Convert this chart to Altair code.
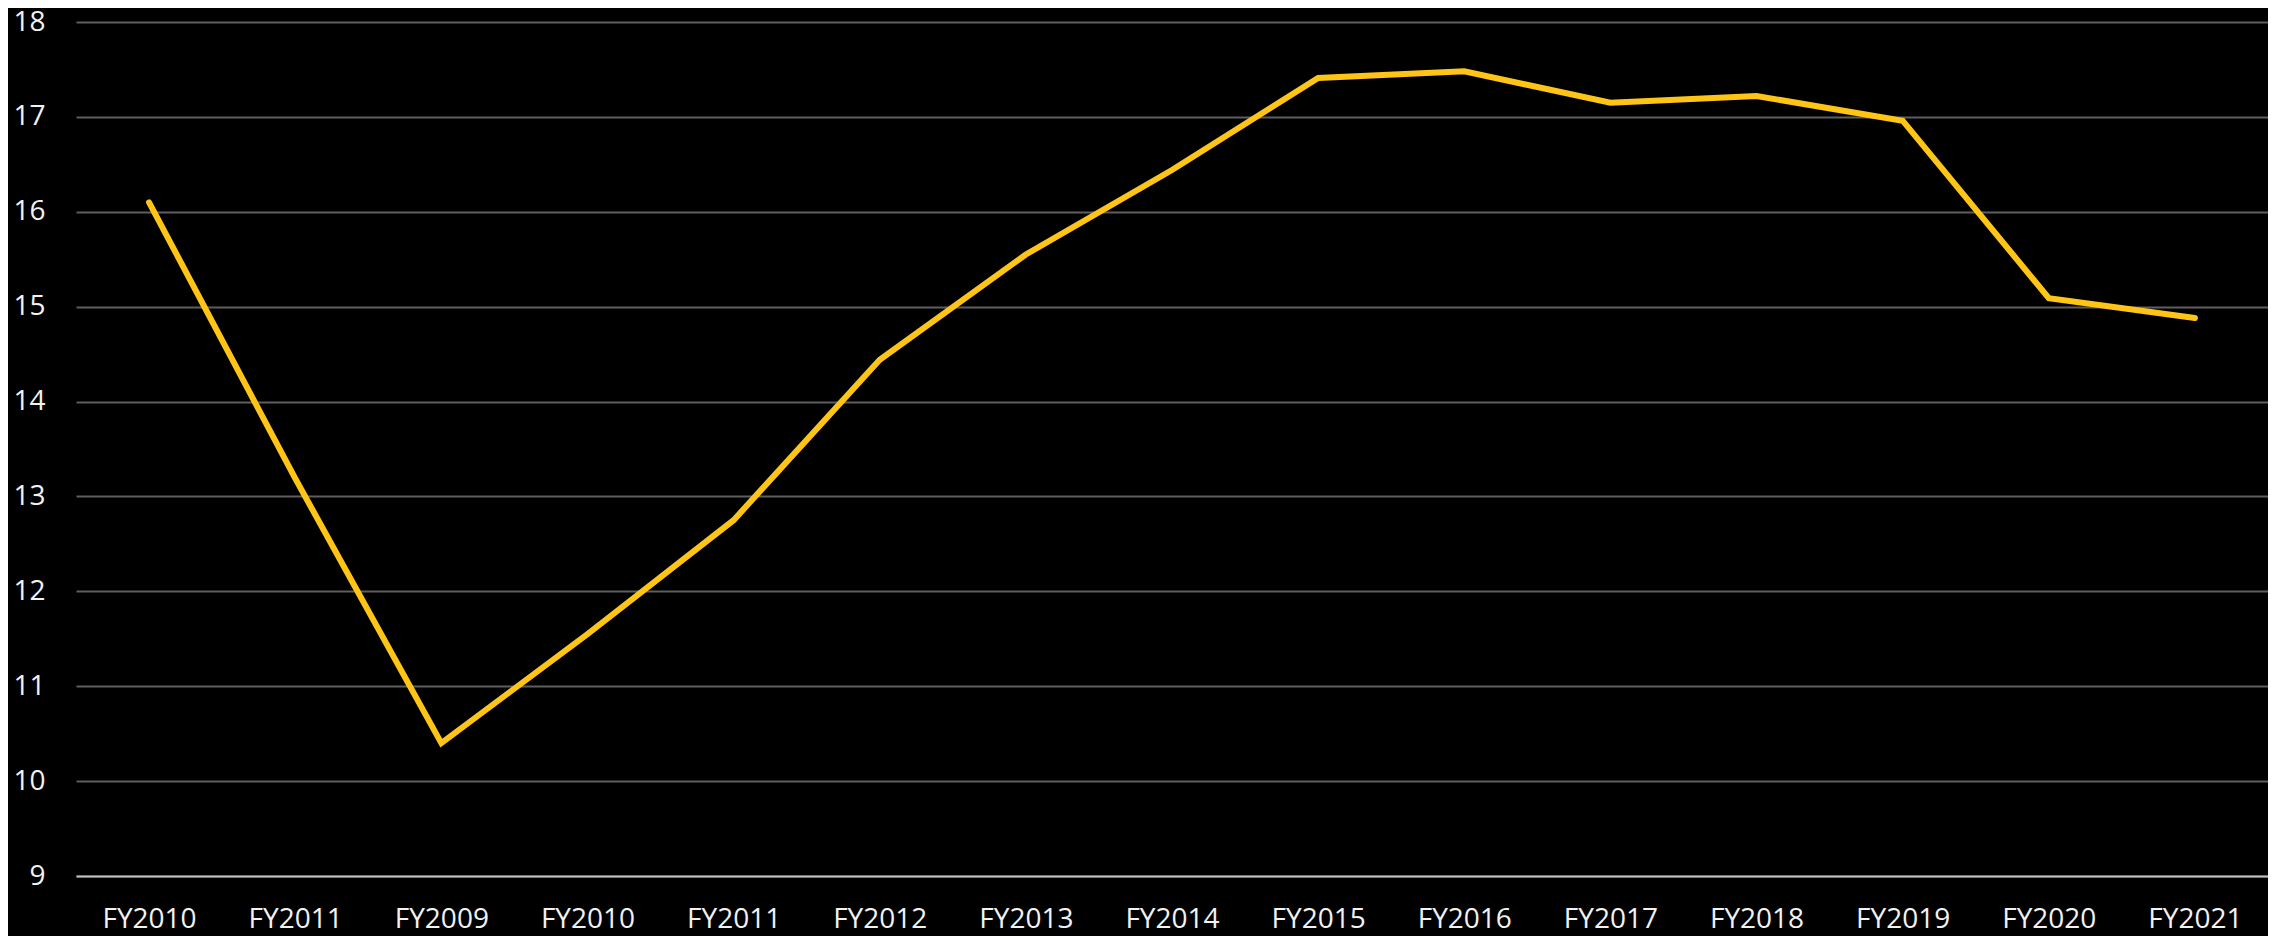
import altair as alt
import pandas as pd

# Data
labels = ["FY2010", "FY2011", "FY2009", "FY2010", "FY2011", "FY2012", "FY2013",
          "FY2014", "FY2015", "FY2016", "FY2017", "FY2018", "FY2019", "FY2020", "FY2021"]
values = [16.10, 13.19, 10.40, 11.55, 12.75, 14.44, 15.55,
          16.44, 17.41, 17.48, 17.15, 17.22, 16.96, 15.09, 14.88]
y_ticks = [9, 10, 11, 12, 13, 14, 15, 16, 17, 18]

df = pd.DataFrame({"idx": list(range(len(labels))), "label": labels, "value": values})

label_expr = "[" + ",".join("'" + s + "'" for s in labels) + "][datum.value]"

FONT = "Open Sans"

chart = (
    alt.Chart(df)
    .mark_line(color="#FFC516", strokeWidth=6, strokeCap="round", strokeJoin="miter")
    .encode(
        x=alt.X(
            "idx:O",
            sort=None,
            scale=alt.Scale(type="point", padding=0.5),
            axis=alt.Axis(
                title=None,
                labelExpr=label_expr,
                labelAngle=0,
                labelFont=FONT,
                labelFontSize=28,
                labelColor="#F2F2F2",
                labelPadding=29,
                ticks=False,
                tickSize=0,
                domain=True,
                domainColor="#BFBFBF",
                domainWidth=2,
                grid=False,
            ),
        ),
        y=alt.Y(
            "value:Q",
            scale=alt.Scale(domain=[9, 18], nice=False, zero=False),
            axis=alt.Axis(
                title=None,
                values=y_ticks,
                labelFont=FONT,
                labelFontSize=28,
                labelColor="#F2F2F2",
                labelPadding=31,
                ticks=False,
                tickSize=0,
                domain=False,
                grid=True,
                gridColor="#5E5E5E",
                gridWidth=1.8,
            ),
        ),
    )
    .properties(
        width=2192,
        height=854,
        background="#000000",
        padding={"left": 68, "top": 14, "right": 0, "bottom": 64},
        autosize=alt.AutoSizeParams(type="none"),
    )
    .configure_view(stroke=None)
)

chart.save("out.html", embed_options={"renderer": "svg", "actions": False})
